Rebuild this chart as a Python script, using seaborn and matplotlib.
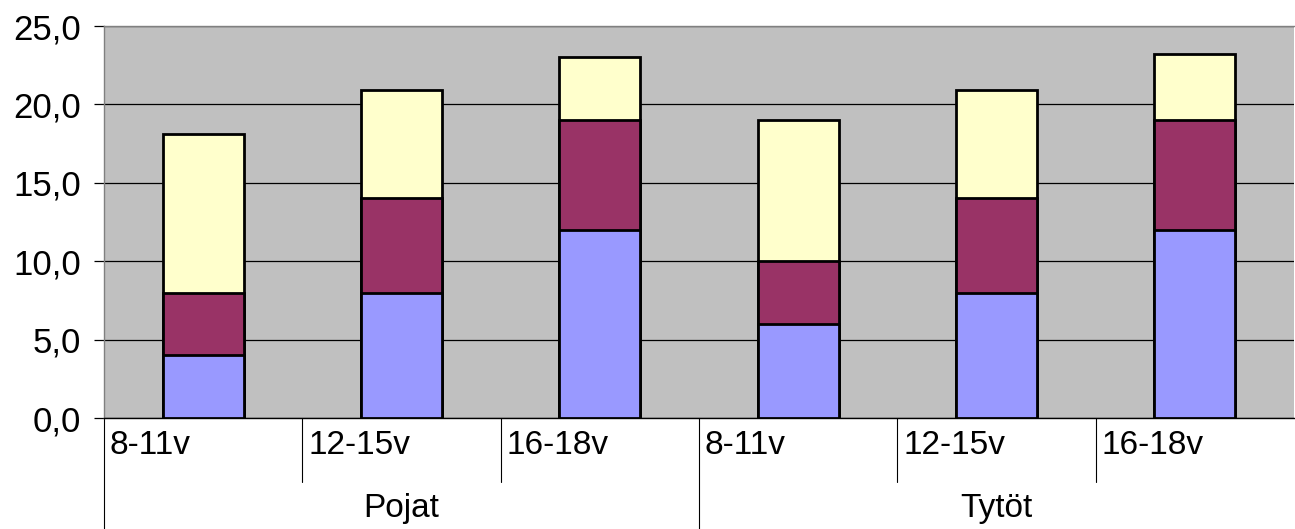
import matplotlib
matplotlib.use("Agg")
import matplotlib.pyplot as plt
import matplotlib.transforms as mtransforms
import seaborn as sns
import pandas as pd
import numpy as np

groups = ["Pojat", "Pojat", "Pojat", "Tytöt", "Tytöt", "Tytöt"]
ages = ["8-11v", "12-15v", "16-18v", "8-11v", "12-15v", "16-18v"]
blue_vals = [4.0, 8.0, 12.0, 6.0, 8.0, 12.0]
maroon_vals = [4.0, 6.0, 7.0, 4.0, 6.0, 7.0]
yellow_vals = [10.1, 6.9, 4.0, 9.0, 6.9, 4.2]
yticks = [0, 5, 10, 15, 20, 25]

sns.set_style("ticks")
plt.rcParams["font.family"] = ["Liberation Sans", "DejaVu Sans"]
plt.rcParams["text.color"] = "black"
plt.rcParams["ytick.labelcolor"] = "black"
plt.rcParams["ytick.color"] = "black"

keys = [f"{g} {a}" for g, a in zip(groups, ages)]
c1 = np.array(blue_vals)
c2 = c1 + np.array(maroon_vals)
c3 = c2 + np.array(yellow_vals)
df = pd.DataFrame({"key": keys, "blue": c1, "maroon": c2, "yellow": c3})

fig = plt.figure(figsize=(12.95, 5.29), dpi=100)
W, H = 1295, 529
x0, x1, yb, yt = 104, 1294, 418, 26
ax = fig.add_axes([x0 / W, (H - yb) / H, (x1 - x0) / W, (yb - yt) / H])
ax.set_facecolor("#C0C0C0")

for col, color in [("yellow", "#FFFFCC"), ("maroon", "#993366"), ("blue", "#9999FF")]:
    sns.barplot(data=df, x="key", y=col, order=keys, color=color, width=0.41,
                edgecolor="black", linewidth=2.0, saturation=1, ax=ax, zorder=3)

ax.set_ylim(0, 25)
ax.set_xlim(-0.5, 5.5)
ax.set_yticks(yticks)
ax.set_yticklabels([f"{v:.1f}".replace(".", ",") for v in yticks], fontsize=25,
                   color="black")
ax.yaxis.grid(True, color="black", linewidth=0.9, zorder=1)
ax.set_axisbelow(True)
ax.tick_params(axis="y", length=7.5, width=0.9, color="black", pad=9)
ax.set_xticks([])
ax.set_xlabel("")
ax.set_ylabel("")
for s in ["left", "top"]:
    ax.spines[s].set_color("#808080")
    ax.spines[s].set_linewidth(1)
ax.spines["right"].set_visible(False)
ax.spines["bottom"].set_color("black")
ax.spines["bottom"].set_linewidth(1)

trans = mtransforms.blended_transform_factory(ax.transData, ax.transAxes)
ph = yb - yt
y_full = -(H - yb) / ph
y_short = -(482 - yb) / ph
for k in range(6):
    xb = k - 0.5
    ybot = y_full if k % 3 == 0 else y_short
    ax.plot([xb, xb], [0, ybot], transform=trans, color="black", lw=0.8, clip_on=False)
    ax.text(xb + 0.03, -(446 - yb) / ph, ages[k], transform=trans, fontsize=24,
            ha="left", va="center", color="black")
for gi, gname in enumerate(["Pojat", "Tytöt"]):
    ax.text(gi * 3 + 1, -(509 - yb) / ph, gname, transform=trans, fontsize=24,
            ha="center", va="center", color="black")

fig.savefig("out.png", dpi=100)
